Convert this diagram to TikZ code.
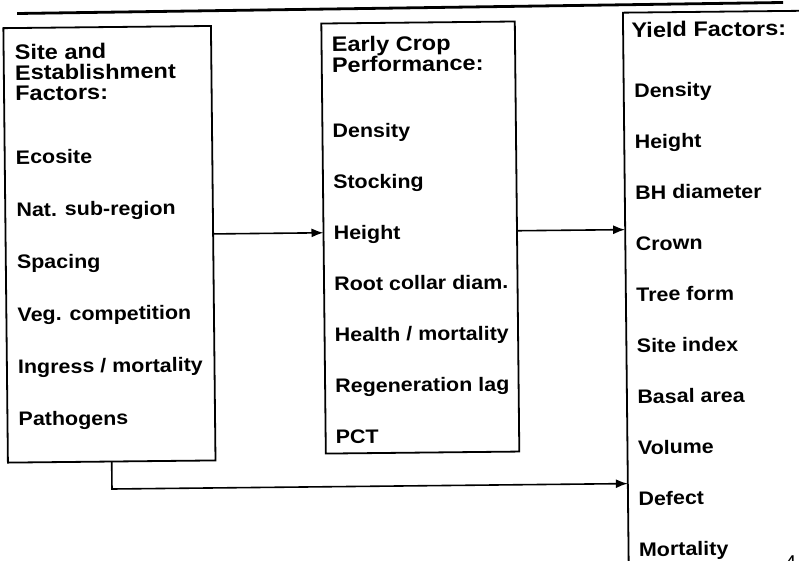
\documentclass[tikz,border=0pt]{standalone}
\usepackage{fontspec}
\setmainfont{Liberation Sans}
\newfontfamily\itemfont{Liberation Sans}[FakeStretch=1.1]
\newfontfamily\titlefont{Liberation Sans}[FakeStretch=1.12]
\usetikzlibrary{arrows.meta,calc}
\begin{document}
\begin{tikzpicture}[x=1pt,y=-1pt,
  box/.style={draw, line width=1.8pt, rectangle, inner sep=0pt, outer sep=0pt, anchor=north west, transform shape},
  lbl/.style={anchor=base west, inner sep=0pt, transform shape, font=\itemfont\fontsize{19.5}{21}\selectfont\bfseries},
  ttl/.style={anchor=base west, inner sep=0pt, transform shape, font=\titlefont\fontsize{21}{21}\selectfont\bfseries},
  conn/.style={line width=1.6pt, -{Latex[length=12pt,width=9pt]}},
  rule/.style={line width=2.8pt},
]
\useasboundingbox (0,0) rectangle (799,561);
\begin{scope}[rotate around={0.6:(400,280)}]
% top rule
\coordinate (r1) at (20,9.5);
\coordinate (r2) at (786,6.5);
\draw[rule] (r1) -- (r2);
% boxes
\node[box, minimum width=207.6pt, minimum height=434.5pt] (b1) at (6,24) {};
\node[box, minimum width=193.5pt, minimum height=430.1pt] (b2) at (324,22.7) {};
\node[box, minimum width=200pt, minimum height=600pt] (b3) at (625.7,15) {};
% box 1 texts
\foreach \t/\y [count=\i] in {{Site and}/55.5, {Establishment}/76, {Factors:}/96.5}
  \node[ttl] (a\i) at (17,\y) {\t};
\foreach \t/\y [count=\i] in {{Ecosite}/160, {Nat. sub-region}/212.4, {Spacing}/264.8, {Veg. competition}/317.2, {Ingress / mortality}/369.6, {Pathogens}/422}
  \node[lbl] (ai\i) at (17,\y) {\t};
% box 2 texts
\foreach \t/\y [count=\i] in {{Early Crop}/51, {Performance:}/71.5}
  \node[ttl] (c\i) at (334,\y) {\t};
\foreach \t/\y [count=\i] in {{Density}/137, {Stocking}/188, {Height}/239, {Root collar diam.}/290, {Health / mortality}/341, {Regeneration lag}/392, {PCT}/443}
  \node[lbl] (ci\i) at (334,\y) {\t};
% box 3 texts
\node[ttl] (d0) at (634,39.8) {Yield Factors:};
\foreach \t/\y [count=\i] in {{Density}/99.8, {Height}/150.8, {BH diameter}/201.8, {Crown}/252.8, {Tree form}/303.8, {Site index}/354.8, {Basal area}/405.8, {Volume}/456.8, {Defect}/507.8, {Mortality}/558.8}
  \node[lbl] (d\i) at (636,\y) {\t};
% connectors
\coordinate (s1) at ($(b1.north east)!0.4787!(b1.south east)$);
\coordinate (e1) at ($(b2.north west)!0.4866!(b2.south west)$);
\coordinate (s2) at ($(b2.north east)!0.4866!(b2.south east)$);
\coordinate (e2) at ($(b3.north west)!0.3617!(b3.south west)$);
\coordinate (k) at (109.8,486);
\coordinate (e3) at ($(b3.north west)!0.785!(b3.south west)$);
\draw[conn] (s1) -- (e1);
\draw[conn] (s2) -- (e2);
\draw[conn] (b1.south) -- (k) -- (e3);
\end{scope}
% page number fragment
\node[anchor=base west, inner sep=0pt, font=\fontsize{20}{22}\selectfont] (pg) at (785,569) {4};
\end{tikzpicture}
\end{document}
